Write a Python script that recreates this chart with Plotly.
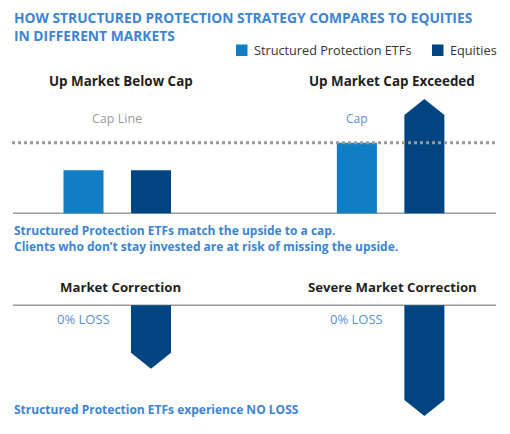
import plotly.graph_objects as go

# values (cap line = 10)
cap_level = 10
top_titles = ["Up Market Below Cap", "Up Market Cap Exceeded"]
top_etf = [6.1, 10]
top_equity = [6.1, 16.2]
bottom_titles = ["Market Correction", "Severe Market Correction"]
bottom_etf = [0, 0]
bottom_equity = [-9, -15.7]
loss_labels = ["0% LOSS", "0% LOSS"]
series_names = ["Structured Protection ETFs", "Equities"]

# layout constants (page body has an 8px margin)
W, H = 510, 434
OFF = 8
etf_pos = [0, 4.05]
eq_pos = [1, 5.05]
bar_w = 0.593
step_px = 67.5
x0_px = 83.5 - OFF
px_per_unit = 7.05
head = 16 / px_per_unit
top_zero_px, bottom_zero_px = 213.3 - OFF, 305.3 - OFF
light, dark = "#117dc4", "#004481"
blue_text = "#3d84d1"
font = "Open Sans"


def arrow(x, v, w=bar_w, h=head):
    s = 1 if v > 0 else -1
    xs = [x - w / 2, x - w / 2, x, x + w / 2, x + w / 2, x - w / 2]
    ys = [0, v - s * h, v, v - s * h, 0, 0]
    return xs, ys


def px(x):
    return (x - OFF) / W


def py(y):
    return 1 - (y - OFF) / H


fig = go.Figure()

# top panel
fig.add_trace(go.Bar(x=etf_pos, y=top_etf, width=bar_w, marker_color=light,
                     marker_line_width=0, name=series_names[0], yaxis="y"))
plain = [(p, v) for p, v in zip(eq_pos, top_equity) if v <= cap_level]
fig.add_trace(go.Bar(x=[p for p, _ in plain], y=[v for _, v in plain], width=bar_w,
                     marker_color=dark, marker_line_width=0, name=series_names[1], yaxis="y"))
for p, v in zip(eq_pos, top_equity):
    if v > cap_level:
        xs, ys = arrow(p, v)
        fig.add_trace(go.Scatter(x=xs, y=ys, fill="toself", fillcolor=dark, mode="lines",
                                 line=dict(width=0, color=dark), showlegend=False,
                                 hoverinfo="skip", yaxis="y"))

# bottom panel
for p, v in zip(eq_pos, bottom_equity):
    xs, ys = arrow(p, v)
    fig.add_trace(go.Scatter(x=xs, y=ys, fill="toself", fillcolor=dark, mode="lines",
                             line=dict(width=0, color=dark), showlegend=False,
                             hoverinfo="skip", yaxis="y2"))

fig.update_layout(
    width=W, height=H,
    margin=dict(l=0, r=0, t=0, b=0),
    paper_bgcolor="white", plot_bgcolor="white",
    barmode="overlay",
    font=dict(family=font, size=12, color="#333333"),
    xaxis=dict(range=[-x0_px / step_px, (W - x0_px) / step_px], visible=False, fixedrange=True),
    yaxis=dict(range=[-(H - top_zero_px) / px_per_unit, top_zero_px / px_per_unit],
               visible=False, fixedrange=True),
    yaxis2=dict(range=[-(H - bottom_zero_px) / px_per_unit, bottom_zero_px / px_per_unit],
                visible=False, overlaying="y", fixedrange=True),
    showlegend=False,
)

# baselines and cap line
for yr in ["y", "y2"]:
    fig.add_shape(type="line", xref="paper", yref=yr, x0=px(13), x1=px(496), y0=0, y1=0,
                  line=dict(color="#999999", width=1.5), layer="below")
fig.add_shape(type="line", xref="paper", yref="y", x0=px(12), x1=px(497),
              y0=cap_level, y1=cap_level, line=dict(color="#9a9a9a", width=3, dash="dot"))


def label(x, y, text, size, color, xref="paper", xanchor="center", align="center"):
    fig.add_annotation(x=x, y=py(y), xref=xref, yref="paper", xanchor=xanchor,
                       yanchor="middle", align=align, showarrow=False, text=text,
                       font=dict(size=size, color=color))


# legend drawn by hand (swatch + name)
for sx, name, col in zip([236, 432], series_names, [light, dark]):
    fig.add_shape(type="rect", xref="paper", yref="paper", x0=px(sx), x1=px(sx + 11.5),
                  y0=py(56), y1=py(44.5), fillcolor=col, line_width=0)
    label(px(sx + 16), 50, name, 12.7, "#333333", xanchor="left", align="left")

# text
fig.add_annotation(x=px(12), y=py(6), xref="paper", yref="paper", xanchor="left", yanchor="top",
                   align="left", showarrow=False,
                   text="<b>HOW STRUCTURED PROTECTION STRATEGY COMPARES TO EQUITIES<br>IN DIFFERENT MARKETS</b>",
                   font=dict(size=13.8, color=blue_text))
for cx, t in zip([121, 392], top_titles):
    label(px(cx), 81, "<b>%s</b>" % t, 13.4, "#231f20")
for cx, t in zip([120, 392], bottom_titles):
    label(px(cx), 287, "<b>%s</b>" % t, 13.2, "#231f20")
label(px(117), 118, "Cap Line", 12.5, "#9a9a9a")
label(etf_pos[1], 118, "Cap", 12, "#5a8fd3", xref="x")
for p, lab in zip(etf_pos, loss_labels):
    label(p, 319, lab, 13, "#5a8fd3", xref="x")
label(px(12), 238.5, "<b>Structured Protection ETFs match the upside to a cap.<br>"
      "Clients who don\u2019t stay invested are at risk of missing the upside.</b>",
      12, blue_text, xanchor="left", align="left")
label(px(12), 409, "<b>Structured Protection ETFs experience NO LOSS</b>", 12, blue_text,
      xanchor="left", align="left")

fig.write_html("out.html")
